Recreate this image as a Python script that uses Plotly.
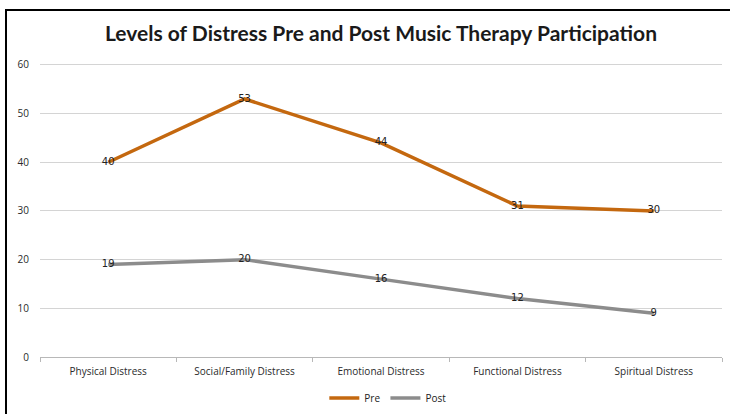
import plotly.graph_objects as go

categories = ["Physical Distress", "Social/Family Distress", "Emotional Distress",
              "Functional Distress", "Spiritual Distress"]
pre_values = [40, 53, 44, 31, 30]
post_values = [19, 20, 16, 12, 9]
y_ticks = [0, 10, 20, 30, 40, 50, 60]

PRE_COLOR = "#C4680F"
POST_COLOR = "#8C8C8C"
TITLE_FONT = "Lato"
TICK_FONT = "Open Sans"

W, H = 730, 414
L, R, T, B = 40, 8, 62, 57
pw, ph = W - L - R, H - T - B


def px_x(p):
    return (p - L) / pw


def px_y(p):
    return (H - B - p) / ph


fig = go.Figure()

for name, vals, color in [("Pre", pre_values, PRE_COLOR), ("Post", post_values, POST_COLOR)]:
    fig.add_trace(go.Scatter(
        x=categories, y=vals, name=name, mode="lines",
        line=dict(color=color, width=3.5),
    ))

for vals in [pre_values, post_values]:
    fig.add_trace(go.Scatter(
        x=categories, y=vals, mode="text", text=[str(v) for v in vals],
        textposition="middle center",
        textfont=dict(family="DejaVu Sans", size=10, color="#222222"),
        showlegend=False, hoverinfo="skip",
    ))

fig.update_layout(
    width=W, height=H,
    margin=dict(l=L, r=R, t=T, b=B, autoexpand=False),
    paper_bgcolor="white", plot_bgcolor="white",
    title=dict(
        text="<b>Levels of Distress Pre and Post Music Therapy Participation</b>",
        font=dict(family=TITLE_FONT, size=21, color="#1a1a1a"),
        x=0.5, xref="paper", xanchor="center", y=1 - 34 / H, yanchor="middle",
    ),
    xaxis=dict(
        type="category", tickson="boundaries", ticks="outside", ticklen=4,
        tickcolor="#b8b8b8", showline=True, linecolor="#b8b8b8", linewidth=1,
        showgrid=False, ticklabelstandoff=5,
        tickfont=dict(family=TICK_FONT, size=10, color="#2a2a2a"),
        range=[-0.5, 4.5],
    ),
    yaxis=dict(
        range=[0, 60.6], tickvals=y_ticks, showgrid=True, gridcolor="#d4d4d4",
        gridwidth=1, zeroline=False, showline=False, ticks="",
        ticklabelstandoff=10,
        tickfont=dict(family=TICK_FONT, size=10, color="#2a2a2a"),
    ),
    legend=dict(
        orientation="h", x=0.51, xanchor="center",
        yref="container", y=1 - 398 / H, yanchor="middle",
        font=dict(family=TICK_FONT, size=10, color="#222222"),
        itemwidth=30, tracegroupgap=0,
    ),
    shapes=[dict(
        type="rect", xref="paper", yref="paper",
        x0=px_x(6), x1=px_x(745), y0=px_y(425), y1=px_y(10),
        line=dict(color="black", width=2), fillcolor="rgba(0,0,0,0)",
    )],
)

fig.write_html("out.html")
